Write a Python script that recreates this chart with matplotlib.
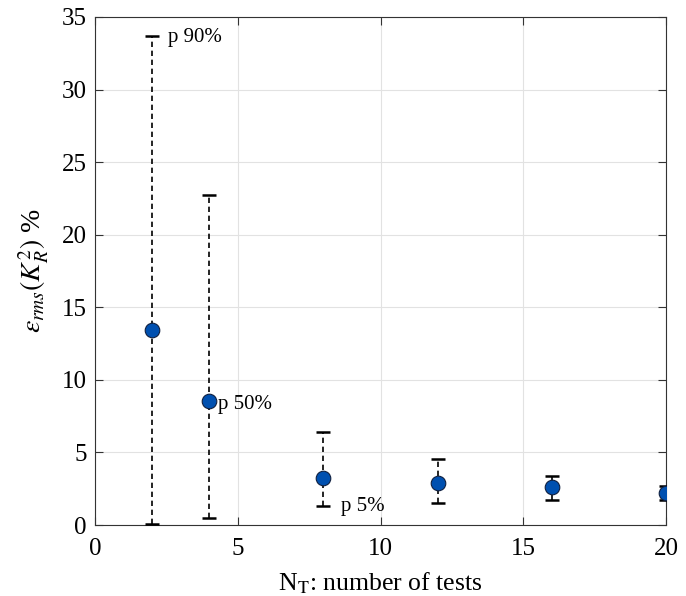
import matplotlib
matplotlib.use("Agg")
import matplotlib.pyplot as plt
import numpy as np

n_tests = [2, 4, 8, 12, 16, 20]
p50 = [13.45, 8.57, 3.26, 2.87, 2.6, 2.2]
p90 = [33.7, 22.75, 6.4, 4.55, 3.4, 2.7]
p5 = [0.05, 0.46, 1.33, 1.54, 1.72, 1.72]

plt.rcParams['font.family'] = ['Liberation Serif', 'DejaVu Serif']
plt.rcParams['mathtext.fontset'] = 'stix'

fig = plt.figure(figsize=(6.86, 5.96), dpi=100)
ax = fig.add_axes([0.1385, 0.119, 0.8325, 0.8525])

x = np.array(n_tests)
y = np.array(p50)
lo = y - np.array(p5)
hi = np.array(p90) - y
eb = ax.errorbar(x, y, yerr=[lo, hi], fmt='none', ecolor='black', elinewidth=1.2,
                 capsize=5, capthick=1.8, zorder=3)
eb[2][0].set_linestyle((0, (3.2, 2.2)))
ax.plot(x, y, 'o', markersize=10.5, markerfacecolor='#0050b0', markeredgecolor='#102040',
        markeredgewidth=0.8, zorder=4)

ax.text(2.56, 33.6, 'p 90%', fontsize=15, va='center', ha='left')
ax.text(4.3, 8.3, 'p 50%', fontsize=15, va='center', ha='left')
ax.text(8.6, 1.3, 'p 5%', fontsize=15, va='center', ha='left')

ax.set_xlim(0, 20)
ax.set_ylim(0, 35)
ax.set_xticks([0, 5, 10, 15, 20])
ax.set_yticks([0, 5, 10, 15, 20, 25, 30, 35])
ax.grid(True, color='#e2e2e2', linewidth=0.8)
ax.set_axisbelow(True)
ax.tick_params(direction='in', labelsize=18, length=6, top=True, right=True,
               color='#333333', width=0.8)
ax.tick_params(axis='x', pad=9)
ax.tick_params(axis='y', pad=6)
for s in ax.spines.values():
    s.set_color('#333333')
    s.set_linewidth(0.8)

ax.set_xlabel(r'N$_\mathrm{T}$: number of tests', fontsize=18.5, labelpad=8)
ax.set_ylabel(r'$\varepsilon_{rms}(K_R^2)$ %', fontsize=20, labelpad=8)

fig.savefig('out.png', dpi=100)
